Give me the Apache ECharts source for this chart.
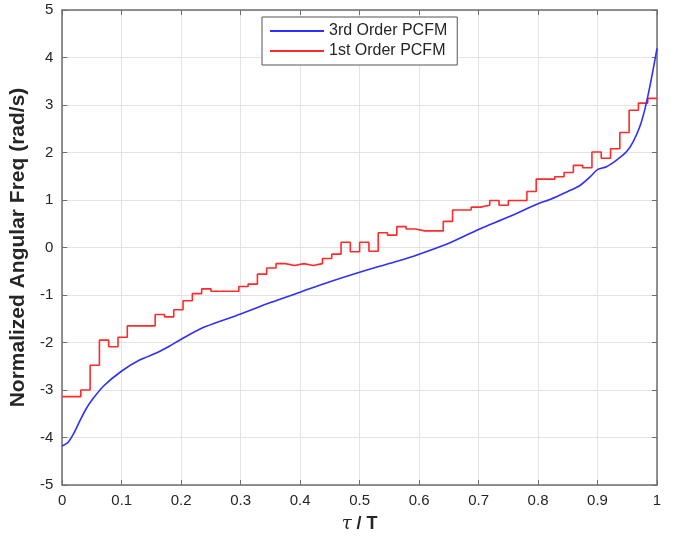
<!DOCTYPE html>
<html>
<head>
<meta charset="utf-8">
<script src="https://cdn.jsdelivr.net/npm/echarts@6/dist/echarts.min.js"></script>
<style>html,body{margin:0;padding:0;background:#fff;}#c{width:678px;height:541px;}</style>
</head>
<body>
<div id="c"></div>
<script>
// 3rd Order PCFM (smooth curve): tau/T and value
var thirdTau = [0, 0.01, 0.02, 0.03, 0.04, 0.05, 0.07, 0.1, 0.13, 0.16, 0.18, 0.2, 0.24, 0.3, 0.35, 0.4, 0.45, 0.5, 0.56, 0.6, 0.65, 0.7, 0.75, 0.8, 0.82, 0.85, 0.87, 0.887, 0.9, 0.915, 0.932, 0.949, 0.96, 0.971, 0.98, 0.988, 0.995, 1.0];
var thirdVal = [-4.18, -4.10, -3.90, -3.64, -3.40, -3.21, -2.91, -2.60, -2.37, -2.21, -2.08, -1.93, -1.67, -1.40, -1.16, -0.94, -0.72, -0.52, -0.30, -0.14, 0.09, 0.38, 0.64, 0.92, 1.01, 1.18, 1.30, 1.48, 1.64, 1.70, 1.84, 2.02, 2.23, 2.54, 2.93, 3.39, 3.85, 4.19];
// 1st Order PCFM: 64 piecewise-constant steps
var firstSteps = [-3.14, -3.14, -3.0, -2.48, -1.95, -2.09, -1.89, -1.65, -1.65, -1.65, -1.41, -1.46, -1.31, -1.12, -0.97, -0.87,
  -0.92, -0.92, -0.92, -0.82, -0.77, -0.56, -0.43, -0.34, -0.38, -0.34, -0.38, -0.34, -0.23, -0.14, 0.11, -0.09,
  0.11, -0.08, 0.31, 0.26, 0.44, 0.39, 0.35, 0.35, 0.35, 0.55, 0.79, 0.79, 0.85, 0.89, 0.99, 0.89,
  0.99, 0.99, 1.18, 1.44, 1.44, 1.49, 1.58, 1.73, 1.68, 2.01, 1.88, 2.08, 2.42, 2.89, 3.04, 3.14];
var xTicks = [0, 0.1, 0.2, 0.3, 0.4, 0.5, 0.6, 0.7, 0.8, 0.9, 1];
var yTicks = [-5, -4, -3, -2, -1, 0, 1, 2, 3, 4, 5];
var seriesNames = ['3rd Order PCFM', '1st Order PCFM'];

var thirdData = thirdTau.map(function (t, i) { return [t, thirdVal[i]]; });
var nSteps = firstSteps.length;
var firstData = firstSteps.map(function (v, k) { return [k / nSteps, v]; });
firstData.push([1, firstSteps[nSteps - 1]]);

var axisCol = '#6e6e6e';
var labelCol = '#262626';
var chart = echarts.init(document.getElementById('c'));
var common = {
  axisLine: { show: true, onZero: false, lineStyle: { color: axisCol, width: 1.5 } },
  axisTick: { show: true, inside: true, length: 5, lineStyle: { color: axisCol } },
  splitLine: { show: false }
};
chart.setOption({
  animation: false,
  backgroundColor: '#fff',
  grid: { left: 62, right: 21, top: 10, bottom: 56, containLabel: false },
  legend: {
    orient: 'vertical', left: 262, top: 17, width: 198,
    data: seriesNames,
    backgroundColor: '#fff', borderColor: '#555', borderWidth: 1,
    padding: [6, 10, 6, 8], itemGap: 4, itemWidth: 54, itemHeight: 17,
    icon: 'path://M0,7.5 L54,7.5 L54,9.5 L0,9.5 Z',
    textStyle: { fontFamily: 'Liberation Sans, Arial', fontSize: 16, color: '#262626', padding: [0, 0, 0, 0] }
  },
  xAxis: [
    Object.assign({}, common, {
      type: 'value', min: 0, max: 1, interval: 0.1, position: 'bottom',
      axisLabel: { color: labelCol, fontSize: 15, fontFamily: 'Liberation Sans, Arial', margin: 8,
        formatter: function (v) { var r = Math.round(v * 10) / 10; return xTicks.indexOf(r) >= 0 ? String(r) : ''; } },
      splitLine: { show: true, lineStyle: { color: '#e3e3e3', width: 1 } },
      name: '{t|τ}{n| / T}', nameLocation: 'middle', nameGap: 30,
      nameTextStyle: { rich: {
        t: { fontFamily: 'DejaVu Serif, serif', fontStyle: 'italic', fontSize: 18, color: '#262626' },
        n: { fontFamily: 'Liberation Sans, Arial', fontWeight: 'bold', fontSize: 18, color: '#262626' } } }
    }),
    Object.assign({}, common, {
      type: 'value', min: 0, max: 1, interval: 0.1, position: 'top',
      axisLabel: { show: false }
    })
  ],
  yAxis: [
    Object.assign({}, common, {
      type: 'value', min: -5, max: 5, interval: 1, position: 'left',
      axisLabel: { color: labelCol, fontSize: 15, fontFamily: 'Liberation Sans, Arial', margin: 9 },
      splitLine: { show: true, lineStyle: { color: '#e3e3e3', width: 1 } },
      name: 'Normalized Angular Freq (rad/s)', nameLocation: 'middle', nameGap: 28,
      nameTextStyle: { fontFamily: 'Liberation Sans, Arial', fontWeight: 'bold', fontSize: 21, color: '#262626' }
    }),
    Object.assign({}, common, {
      type: 'value', min: -5, max: 5, interval: 1, position: 'right',
      axisLabel: { show: false }
    })
  ],
  series: [
    {
      name: seriesNames[0], type: 'line', data: thirdData, showSymbol: false, symbol: 'none',
      smooth: 0.3,
      lineStyle: { color: '#2f2fff', width: 1.6 }, itemStyle: { color: '#2f2fff' }, z: 3
    },
    {
      name: seriesNames[1], type: 'line', data: firstData, showSymbol: false, symbol: 'none',
      step: 'end',
      lineStyle: { color: '#ff2b2b', width: 1.6 }, itemStyle: { color: '#ff2b2b' }, z: 2
    }
  ]
});
</script>
</body>
</html>
